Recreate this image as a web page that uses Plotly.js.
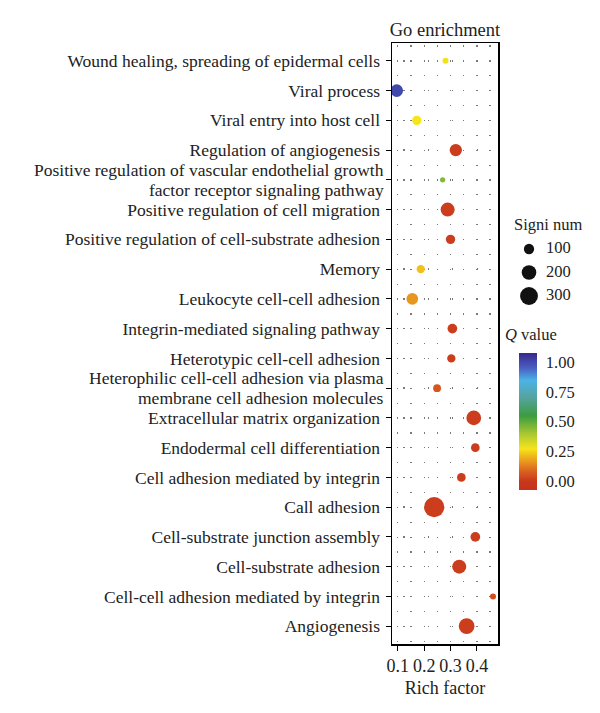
<!DOCTYPE html>
<html>
<head>
<meta charset="utf-8">
<script src="https://cdn.plot.ly/plotly-3.0.1.min.js"></script>
<style>html,body{margin:0;padding:0;background:#fff;}#chart{width:600px;height:713px;}</style>
</head>
<body>
<div id="chart"></div>
<script>
const categories = [
  "Wound healing, spreading of epidermal cells",
  "Viral process",
  "Viral entry into host cell",
  "Regulation of angiogenesis",
  "Positive regulation of vascular endothelial growth<br>factor receptor signaling pathway",
  "Positive regulation of cell migration",
  "Positive regulation of cell-substrate adhesion",
  "Memory",
  "Leukocyte cell-cell adhesion",
  "Integrin-mediated signaling pathway",
  "Heterotypic cell-cell adhesion",
  "Heterophilic cell-cell adhesion via plasma<br>membrane cell adhesion molecules",
  "Extracellular matrix organization",
  "Endodermal cell differentiation",
  "Cell adhesion mediated by integrin",
  "Call adhesion",
  "Cell-substrate junction assembly",
  "Cell-substrate adhesion",
  "Cell-cell adhesion mediated by integrin",
  "Angiogenesis"
];
const richFactor = [0.281, 0.096, 0.172, 0.320, 0.270, 0.289, 0.300, 0.187, 0.155, 0.307,
                    0.303, 0.249, 0.388, 0.394, 0.341, 0.238, 0.394, 0.333, 0.461, 0.361];
const signiNum = [34, 150, 82, 143, 26, 185, 82, 65, 129, 89,
                  65, 58, 204, 71, 71, 388, 89, 185, 34, 232];
const qValue = [0.28, 1.00, 0.27, 0.01, 0.45, 0.01, 0.01, 0.22, 0.16, 0.01,
                0.01, 0.06, 0.01, 0.01, 0.01, 0.01, 0.01, 0.01, 0.04, 0.01];
const sizeLegendValues = [100, 200, 300];
const sizeLegendLabels = ["100", "200", "300"];
const xTickValues = [0.1, 0.2, 0.3, 0.4];
const xTickLabels = ["0.1", "0.2", "0.3", "0.4"];
const qTickValues = [0, 0.25, 0.5, 0.75, 1];
const qTickLabels = ["0.00", "0.25", "0.50", "0.75", "1.00"];

const FONT = "Liberation Serif, Times New Roman, serif";
const LABEL_SIZE = 17.5;
const CMIN = -0.076, CMAX = 1.076;
const SIZEREF = 1.885;

const colorscale = [
  [0.00, "#c3321b"],
  [0.066, "#c9381c"],
  [0.15, "#dc6a20"],
  [0.24, "#eeb21c"],
  [0.30, "#f7e41a"],
  [0.41, "#a9c832"],
  [0.54, "#3d9c3f"],
  [0.67, "#55a39c"],
  [0.80, "#4cb3e6"],
  [0.89, "#4a5fc2"],
  [1.00, "#37288a"]
];

// tick labels: single-line labels via the axis, two-line labels drawn as tight annotations
const tickLabels = categories.map(c => c.includes("<br>") ? "" : c);
const labelAnnotations = [];
categories.forEach(c => {
  if (!c.includes("<br>")) return;
  const lines = c.split("<br>");
  lines.forEach((ln, j) => {
    labelAnnotations.push({
      text: ln, xref: "paper", yref: "y", x: 0, y: c,
      xanchor: "right", yanchor: "middle", xshift: -7,
      yshift: (j === 0 ? 9.8 : -9.8),
      borderpad: 0,
      showarrow: false, font: {family: FONT, size: LABEL_SIZE, color: "#222"}
    });
  });
});

const mainTrace = {
  type: "scatter",
  mode: "markers",
  x: richFactor,
  y: categories,
  xaxis: "x", yaxis: "y",
  marker: {
    size: signiNum,
    sizemode: "area",
    sizeref: SIZEREF,
    color: qValue,
    cmin: CMIN, cmax: CMAX,
    colorscale: colorscale,
    line: {width: 0},
    opacity: 1,
    showscale: true,
    colorbar: {
      x: 0.6256, xanchor: "left",
      y: 0.3702, yanchor: "middle",
      len: 137, lenmode: "pixels",
      thickness: 18, thicknessmode: "pixels",
      xpad: 0, ypad: 0,
      outlinewidth: 0,
      tickmode: "array",
      tickvals: qTickValues,
      ticktext: qTickLabels,
      ticks: "outside", ticklen: 6, tickcolor: "rgba(0,0,0,0)",
      tickfont: {family: FONT, size: 16.5, color: "#222"}
    }
  },
  hoverinfo: "x+y",
  showlegend: false
};

const legendTrace = {
  type: "scatter",
  mode: "markers",
  x: sizeLegendValues.map(() => 24),
  y: sizeLegendValues.map((v, i) => i),
  xaxis: "x2", yaxis: "y2",
  marker: {size: sizeLegendValues, sizemode: "area", sizeref: SIZEREF, color: "#111", opacity: 1, line: {width: 0}},
  hoverinfo: "skip",
  showlegend: false
};
const legendText = {
  type: "scatter",
  mode: "text",
  x: sizeLegendValues.map(() => 41),
  y: sizeLegendValues.map((v, i) => i),
  text: sizeLegendLabels,
  textposition: "middle right",
  textfont: {family: FONT, size: 16.5, color: "#222"},
  xaxis: "x2", yaxis: "y2",
  hoverinfo: "skip",
  showlegend: false
};

const layout = {
  width: 600, height: 713,
  margin: {l: 392, r: 5, t: 43, b: 69, pad: 0},
  paper_bgcolor: "#fff", plot_bgcolor: "#fff",
  font: {family: FONT, size: LABEL_SIZE, color: "#222"},
  title: {
    text: "Go enrichment",
    font: {family: FONT, size: 18.5, color: "#222"},
    x: 0.261, xref: "paper", xanchor: "center",
    y: 1 - 30 / 713, yref: "container", yanchor: "middle"
  },
  xaxis: {
    domain: [0, 0.5222],
    range: [0.078, 0.48],
    tickmode: "array", tickvals: xTickValues, ticktext: xTickLabels,
    ticks: "outside", ticklen: 5, tickwidth: 1, tickcolor: "#000",
    showline: true, linecolor: "#000", linewidth: 1.5, mirror: true,
    showgrid: true, gridcolor: "#7a7a7a", gridwidth: 1.3,
    griddash: "0px,2.48px,1.2px,11.2px",
    minor: {tickmode: "array", tickvals: [0.15, 0.25, 0.35, 0.45], showgrid: true, gridcolor: "#7a7a7a", gridwidth: 1.3, griddash: "0px,2.48px,1.2px,11.2px", ticks: ""},
    zeroline: false,
    tickfont: {family: FONT, size: 18, color: "#222"},
    title: {text: "Rich factor", font: {family: FONT, size: 18, color: "#222"}, standoff: 6}
  },
  yaxis: {
    type: "category",
    categoryorder: "array", categoryarray: categories,
    tickmode: "array", tickvals: categories, ticktext: tickLabels,
    range: [19.6, -0.6],
    ticks: "outside", ticklen: 5, tickwidth: 1, tickcolor: "#000",
    showline: true, linecolor: "#000", linewidth: 1.5, mirror: true,
    showgrid: true, gridcolor: "#7a7a7a", gridwidth: 1.3,
    griddash: "0px,11.3px,1.2px,11.98px",
    zeroline: false,
    tickfont: {family: FONT, size: LABEL_SIZE, color: "#222"},
    ticklabelstandoff: 2
  },
  xaxis2: {domain: [0.5567, 1.0], range: [0, 90], visible: false, fixedrange: true, anchor: "y2"},
  yaxis2: {domain: [0.5634, 0.6729], range: [2.4, -0.4], visible: false, fixedrange: true, anchor: "x2"},
  annotations: [
    {text: "Signi num", xref: "paper", yref: "paper", x: (512 - 392) / 203, y: (644 - 225) / 601,
     xanchor: "left", yanchor: "middle", showarrow: false, font: {family: FONT, size: 16.5, color: "#222"}},
    {text: "<i>Q</i> value", xref: "paper", yref: "paper", x: (503 - 392) / 203, y: (644 - 334) / 601,
     xanchor: "left", yanchor: "middle", showarrow: false, font: {family: FONT, size: 16.5, color: "#222"}}
  ].concat(labelAnnotations)
};

Plotly.newPlot("chart", [mainTrace, legendTrace, legendText], layout, {displayModeBar: false, staticPlot: true});
</script>
</body>
</html>
